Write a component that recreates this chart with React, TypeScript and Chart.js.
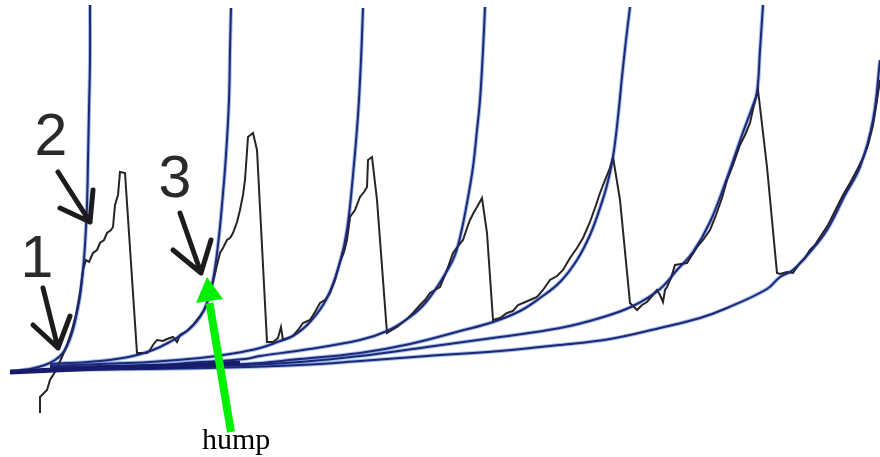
import React, { useEffect, useRef } from "react";
import Chart from "chart.js/auto";

// Abstract diagram units: x = time (0..880), y = level (0..457, up)
const baselineTrend: [number, number][] = [[10, 85], [100, 89], [180, 91], [240, 94]];

const curve1: [number, number][] = [[20, 87], [30, 88], [45, 92], [55, 97], [62, 103], [67, 111], [72, 124], [76, 140], [80, 161], [83, 187], [85, 212], [87, 252], [88, 297], [89, 347], [90, 397], [90, 452]];
const curve2: [number, number][] = [[50, 93], [100, 96], [133, 101], [160, 110], [187, 126], [200, 140], [207, 154], [213, 177], [218, 212], [222, 252], [226, 302], [229, 357], [230, 407], [231, 449]];
const curve3: [number, number][] = [[50, 91], [100, 93], [150, 95], [200, 99], [230, 103], [260, 109], [280, 116], [293, 121], [310, 135], [327, 159], [340, 195], [347, 227], [353, 282], [358, 342], [361, 397], [363, 449]];
const curve4: [number, number][] = [[50, 90], [150, 92], [200, 95], [245, 98], [260, 101], [303, 107], [360, 117], [387, 126], [410, 140], [427, 156], [447, 186], [455, 202], [461, 224], [467, 254], [473, 290], [477, 327], [480, 357], [483, 407], [485, 450]];
const curve5: [number, number][] = [[50, 89], [150, 91], [245, 93], [300, 98], [360, 104], [410, 113], [460, 126], [493, 135], [520, 146], [540, 159], [560, 175], [577, 197], [590, 222], [600, 249], [607, 272], [613, 300], [618, 340], [622, 380], [626, 417], [630, 450]];
const curve6: [number, number][] = [[50, 88], [150, 90], [245, 92], [300, 95], [360, 101], [427, 110], [500, 120], [560, 129], [600, 139], [633, 151], [660, 168], [677, 187], [693, 205], [710, 235], [727, 279], [742, 322], [752, 349], [757, 365], [760, 407], [763, 452]];
const curve7: [number, number][] = [[50, 87], [150, 88], [245, 90], [300, 92], [360, 96], [427, 101], [500, 106], [560, 112], [610, 118], [660, 129], [700, 139], [727, 149], [767, 168], [780, 180], [793, 187], [810, 205], [827, 227], [845, 262], [860, 290], [873, 337], [880, 397]];

const priceSeries: [number, number][] = [
  [40, 44], [40, 60], [47, 67], [50, 77], [55, 85], [62, 100], [67, 112], [72, 127], [76, 142], [80, 164], [83, 187], [86, 197], [89, 195], [93, 204], [97, 207], [100, 214], [104, 217], [107, 224], [111, 227], [113, 230], [115, 252], [118, 262], [120, 285], [125, 284],
  [137, 104], [147, 104], [150, 107], [153, 112], [157, 117], [163, 116], [167, 118], [173, 120], [177, 115], [180, 122], [187, 126], [193, 132], [200, 141], [204, 147], [207, 154], [210, 165], [213, 175], [217, 192], [220, 204], [223, 209], [227, 217], [230, 219], [233, 224], [237, 235], [240, 247], [243, 262], [245, 277], [248, 320], [253, 324], [257, 307],
  [267, 115], [273, 115], [278, 119], [281, 130], [283, 117], [288, 119], [293, 121], [298, 127], [303, 134], [310, 137], [315, 145], [320, 154], [325, 157], [330, 164], [335, 177], [340, 195], [344, 205], [347, 217], [350, 240], [355, 247], [360, 260], [364, 265], [367, 270], [368, 297], [372, 300], [377, 257],
  [387, 124], [392, 127], [397, 130], [403, 135], [408, 139], [413, 144], [420, 152], [425, 157], [430, 164], [435, 167], [440, 170], [447, 187], [453, 204], [458, 211], [463, 217], [467, 229], [470, 237], [474, 245], [477, 250], [482, 259], [487, 224],
  [493, 137], [500, 139], [507, 144], [513, 146], [518, 152], [523, 154], [530, 157], [537, 160], [543, 167], [550, 177], [557, 181], [563, 187], [570, 199], [577, 209], [583, 219], [590, 235], [596, 252], [600, 264], [605, 277], [610, 289], [613, 300], [620, 257],
  [630, 154], [637, 147], [642, 152], [647, 155], [652, 161], [657, 167], [660, 162], [663, 155], [665, 167], [667, 170], [671, 179], [675, 192], [681, 193], [687, 194], [692, 202], [697, 210], [703, 217], [710, 227], [716, 242], [722, 259], [727, 277], [733, 292], [740, 312], [745, 322], [750, 334], [754, 352], [758, 367], [767, 290],
  [777, 184], [780, 183], [787, 185], [793, 184], [797, 190], [800, 194], [805, 199], [810, 207], [815, 212], [820, 220], [828, 232], [837, 250], [843, 262], [850, 274], [857, 287], [863, 299], [868, 312], [873, 332], [877, 357], [880, 377],
];

// Annotations (diagram units)
const labelTexts = ["1", "2", "3"];
const labelAnchors: [number, number][] = [[37, 180], [51, 302], [175, 260]];
// tail, tip, wing1, wing2
const pointerArrows: [number, number][][] = [
  [[43, 169], [58, 109], [33, 132], [70, 141]],
  [[58, 285], [90, 235], [60, 249], [93, 267]],
  [[180, 244], [201, 184], [173, 207], [211, 217]],
];
const humpText = "hump";
const humpAnchor: [number, number] = [202, 8];
// tail, tip, base1, base2
const humpArrow: [number, number][] = [[231, 25], [207, 180], [196, 154], [223, 158]];

const toPts = (a: [number, number][]) => a.map(([x, y]) => ({ x, y }));

export default function App() {
  const ref = useRef<HTMLCanvasElement | null>(null);
  useEffect(() => {
    if (!ref.current) return;
    const curves = [curve1, curve2, curve3, curve4, curve5, curve6, curve7];
    const halo = curves.map((c) => ({
      data: toPts(c),
      showLine: true,
      borderColor: "rgba(70,130,210,0.5)",
      borderWidth: 4,
      tension: 0.4,
      pointRadius: 0,
      order: 3,
    }));
    const core = curves.map((c) => ({
      data: toPts(c),
      showLine: true,
      borderColor: "#1f2677",
      borderWidth: 2,
      tension: 0.4,
      pointRadius: 0,
      order: 1,
    }));
    const annot = {
      id: "annot",
      afterDatasetsDraw(chart: any) {
        const ctx = chart.ctx as CanvasRenderingContext2D;
        const X = (v: number) => chart.scales.x.getPixelForValue(v);
        const Y = (v: number) => chart.scales.y.getPixelForValue(v);
        ctx.save();
        // black pointer arrows
        ctx.strokeStyle = "#1c1c1c";
        ctx.lineWidth = 5;
        ctx.lineCap = "round";
        ctx.lineJoin = "round";
        pointerArrows.forEach(([t, p, w1, w2]) => {
          ctx.beginPath();
          ctx.moveTo(X(t[0]), Y(t[1]));
          ctx.lineTo(X(p[0]), Y(p[1]));
          ctx.moveTo(X(w1[0]), Y(w1[1]));
          ctx.lineTo(X(p[0]), Y(p[1]));
          ctx.lineTo(X(w2[0]), Y(w2[1]));
          ctx.stroke();
        });
        // labels
        ctx.fillStyle = "#2a2a2a";
        ctx.font = '59px "Liberation Sans", Arial, sans-serif';
        ctx.textAlign = "center";
        ctx.textBaseline = "alphabetic";
        labelTexts.forEach((t, i) => {
          ctx.fillText(t, X(labelAnchors[i][0]), Y(labelAnchors[i][1]));
        });
        // green arrow
        const [gt, gp, gb1, gb2] = humpArrow;
        ctx.strokeStyle = "#00f000";
        ctx.fillStyle = "#00f000";
        ctx.lineWidth = 8;
        ctx.lineCap = "butt";
        ctx.beginPath();
        ctx.moveTo(X(gt[0]), Y(gt[1]));
        ctx.lineTo(X((gb1[0] + gb2[0]) / 2), Y((gb1[1] + gb2[1]) / 2) + 2);
        ctx.stroke();
        ctx.beginPath();
        ctx.moveTo(X(gp[0]), Y(gp[1]));
        ctx.lineTo(X(gb1[0]), Y(gb1[1]));
        ctx.lineTo(X(gb2[0]), Y(gb2[1]));
        ctx.closePath();
        ctx.fill();
        // hump text
        ctx.fillStyle = "#000";
        ctx.font = '30px "Liberation Serif", "Times New Roman", serif';
        ctx.textAlign = "left";
        ctx.fillText(humpText, X(humpAnchor[0]), Y(humpAnchor[1]));
        ctx.restore();
      },
    };
    const chart = new Chart(ref.current, {
      type: "scatter",
      data: {
        datasets: [
          {
            data: toPts(baselineTrend),
            showLine: true,
            borderColor: "#161b6c",
            borderWidth: 5,
            tension: 0.3,
            pointRadius: 0,
            order: 0,
          },
          ...core,
          {
            data: toPts(priceSeries),
            showLine: true,
            borderColor: "#2a2323",
            borderWidth: 2,
            tension: 0,
            pointRadius: 0,
            order: 2,
          },
          ...halo,
        ] as any,
      },
      options: {
        animation: false,
        responsive: false,
        layout: { padding: 0 },
        plugins: { legend: { display: false }, tooltip: { enabled: false } },
        events: [],
        scales: {
          x: { type: "linear", min: 0, max: 880, display: false },
          y: { type: "linear", min: 0, max: 457, display: false },
        },
      },
      plugins: [annot],
    });
    return () => chart.destroy();
  }, []);
  return (
    <div style={{ position: "absolute", left: 0, top: 0, width: 880, height: 457, background: "#fff" }}>
      <canvas ref={ref} width={880} height={457} />
    </div>
  );
}
